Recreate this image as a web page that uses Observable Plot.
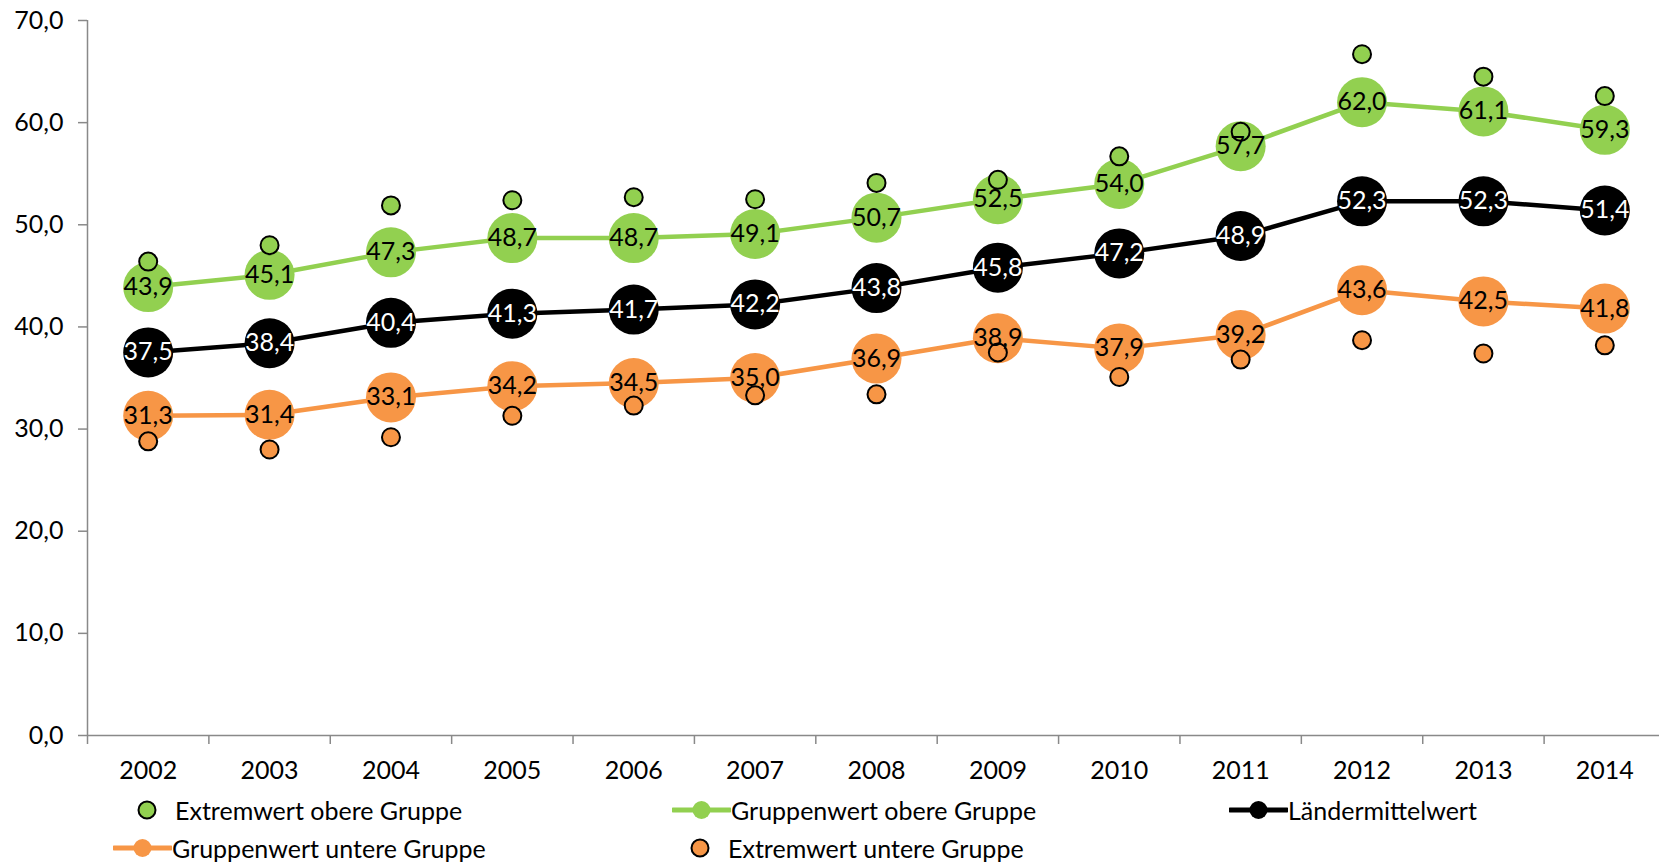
<!DOCTYPE html>
<html><head><meta charset="utf-8">
<script src="https://cdn.jsdelivr.net/npm/d3@7"></script>
<script src="https://cdn.jsdelivr.net/npm/@observablehq/plot@0.6"></script>
<style>
body{margin:0;background:#fff;font-family:Lato,sans-serif;}
#wrap{position:relative;width:1659px;height:864px;overflow:hidden;background:#fff;}
#legend{position:absolute;left:0;top:790px;width:1659px;height:74px;}
.item{position:absolute;height:30px;display:flex;align-items:center;font-size:25px;line-height:30px;color:#000;white-space:nowrap;transform:translateY(-50%);}
.item svg{display:block;}
</style></head><body><div id="wrap"><div id="chart"></div><div id="legend"></div></div>
<script>
// ---- data ----
const years = [2002,2003,2004,2005,2006,2007,2008,2009,2010,2011,2012,2013,2014];
const extremOben  = [46.4,48.0,51.9,52.4,52.7,52.5,54.1,54.4,56.7,59.1,66.7,64.5,62.6];
const gruppeOben  = [43.9,45.1,47.3,48.7,48.7,49.1,50.7,52.5,54.0,57.7,62.0,61.1,59.3];
const laenderMittel = [37.5,38.4,40.4,41.3,41.7,42.2,43.8,45.8,47.2,48.9,52.3,52.3,51.4];
const gruppeUnten = [31.3,31.4,33.1,34.2,34.5,35.0,36.9,38.9,37.9,39.2,43.6,42.5,41.8];
const extremUnten = [28.8,28.0,29.2,31.3,32.3,33.3,33.4,37.5,35.1,36.8,38.7,37.4,38.2];
const yTicks = [0,10,20,30,40,50,60,70];
const seriesNames = ["Extremwert obere Gruppe","Gruppenwert obere Gruppe","Ländermittelwert","Gruppenwert untere Gruppe","Extremwert untere Gruppe"];

const green = "#92D050", orange = "#F79646", black = "#000000", axisColor = "#898989";
const fmt = d => d.toFixed(1).replace(".", ",");

const rows = years.map((year, i) => ({
  year,
  eo: extremOben[i], go: gruppeOben[i], lm: laenderMittel[i], gu: gruppeUnten[i], eu: extremUnten[i]
}));
const boundaries = years.map(y => y - 0.5).concat([years[years.length - 1] + 0.5]);

const chart = Plot.plot({
  width: 1659, height: 790,
  marginLeft: 87, marginRight: -6, marginTop: 20, marginBottom: 55,
  style: {fontFamily: "Lato, sans-serif", fontSize: "25px", color: "#000", background: "#fff", overflow: "visible"},
  x: {type: "linear", domain: [boundaries[0], boundaries[boundaries.length - 1]], label: null},
  y: {domain: [0, 70], label: null},
  marks: [
    Plot.ruleY([0], {stroke: axisColor, strokeWidth: 1.5}),
    Plot.ruleX([boundaries[0]], {stroke: axisColor, strokeWidth: 1.5}),
    Plot.axisY({ticks: yTicks, tickSize: 9, tickPadding: 15, stroke: axisColor, strokeWidth: 1.5, fill: "#000", tickFormat: fmt, label: null, fontSize: 25}),
    Plot.axisX({ticks: boundaries, tickSize: 9, stroke: axisColor, strokeWidth: 1.5, tickFormat: () => "", label: null}),
    Plot.axisX({ticks: years, tickSize: 0, tickPadding: 26, fill: "#000", tickFormat: d => String(d), label: null, fontSize: 25}),
    Plot.line(rows, {x: "year", y: "go", stroke: green, strokeWidth: 4.5}),
    Plot.line(rows, {x: "year", y: "lm", stroke: black, strokeWidth: 4.5}),
    Plot.line(rows, {x: "year", y: "gu", stroke: orange, strokeWidth: 4.5}),
    Plot.dot(rows, {x: "year", y: "go", r: 25, fill: green}),
    Plot.dot(rows, {x: "year", y: "lm", r: 25, fill: black}),
    Plot.dot(rows, {x: "year", y: "gu", r: 25, fill: orange}),
    Plot.dot(rows, {x: "year", y: "eo", r: 9, fill: green, stroke: "#000", strokeWidth: 2}),
    Plot.dot(rows, {x: "year", y: "eu", r: 9, fill: orange, stroke: "#000", strokeWidth: 2}),
    Plot.text(rows, {x: "year", y: "go", text: d => fmt(d.go), fill: "#000", fontSize: 25}),
    Plot.text(rows, {x: "year", y: "lm", text: d => fmt(d.lm), fill: "#fff", fontSize: 25}),
    Plot.text(rows, {x: "year", y: "gu", text: d => fmt(d.gu), fill: "#000", fontSize: 25})
  ]
});
document.getElementById("chart").appendChild(chart);

// ---- legend ----
const legendItems = [
  {name: seriesNames[0], kind: "dot", color: green, left: 136, top: 20},
  {name: seriesNames[1], kind: "line", color: green, left: 672, top: 20},
  {name: seriesNames[2], kind: "line", color: black, left: 1229, top: 20},
  {name: seriesNames[3], kind: "line", color: orange, left: 113, top: 58},
  {name: seriesNames[4], kind: "dot", color: orange, left: 689, top: 58}
];
const legend = document.getElementById("legend");
for (const it of legendItems) {
  const div = document.createElement("div");
  div.className = "item";
  div.style.left = it.left + "px";
  div.style.top = it.top + "px";
  let svg;
  if (it.kind === "dot") {
    svg = `<svg width="39" height="24"><circle cx="11" cy="12" r="8.5" fill="${it.color}" stroke="#000" stroke-width="2"/></svg>`;
  } else {
    svg = `<svg width="59" height="24"><line x1="1" y1="12" x2="58" y2="12" stroke="${it.color}" stroke-width="5" stroke-linecap="round"/><circle cx="29.5" cy="12" r="9" fill="${it.color}"/></svg>`;
  }
  div.innerHTML = svg + `<span>${it.name}</span>`;
  legend.appendChild(div);
}
</script>
</body></html>
